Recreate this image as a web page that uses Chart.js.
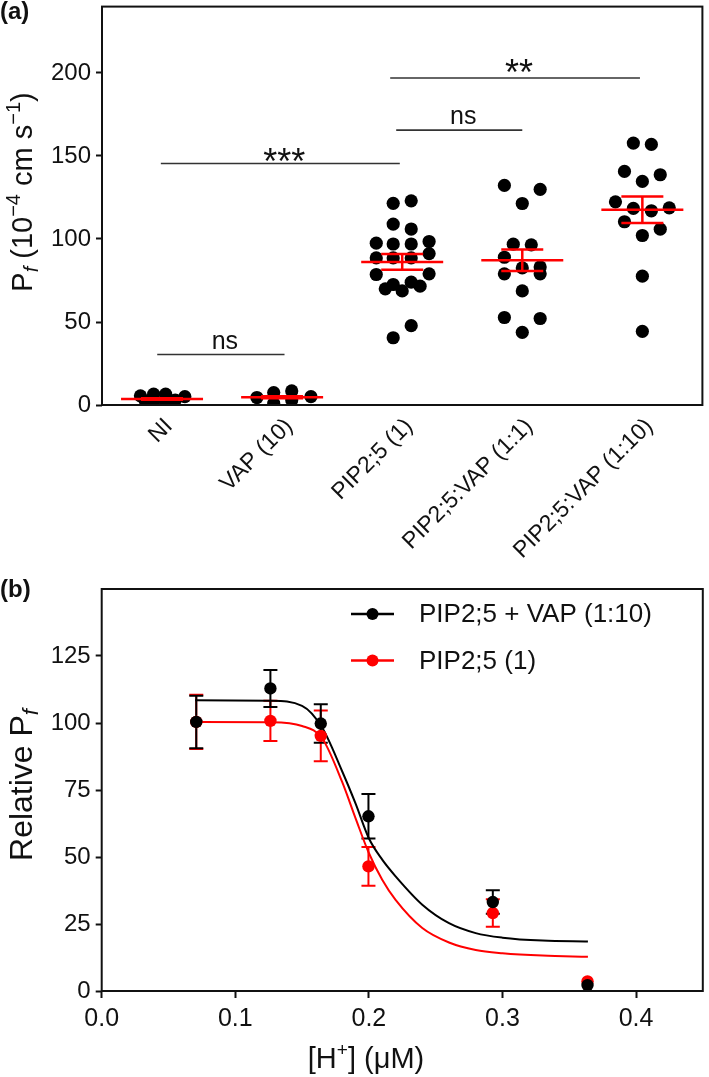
<!DOCTYPE html>
<html><head><meta charset="utf-8">
<script src="https://cdn.jsdelivr.net/npm/chart.js@4.4.0/dist/chart.umd.min.js"></script>
<style>
html,body{margin:0;padding:0;background:#fff;width:709px;height:1077px;overflow:hidden}
#wa{position:absolute;left:0;top:0;width:709px;height:580px}
#wb{position:absolute;left:0;top:580px;width:709px;height:497px}
.lbl{position:absolute;font:bold 24px "Liberation Sans",Arial,sans-serif;color:#111}
</style></head><body>
<div id="wa"><canvas id="ca" width="709" height="580"></canvas></div>
<div id="wb"><canvas id="cb" width="709" height="497"></canvas></div>
<div class="lbl" style="left:0;top:-3px">(a)</div>
<div class="lbl" style="left:0;top:575px">(b)</div>
<script>
// ---------- Panel (a) data ----------
const categories = ['NI', 'VAP (10)', 'PIP2;5 (1)', 'PIP2;5:VAP (1:1)', 'PIP2;5:VAP (1:10)'];
const pfNI      = [5.5, 2.5, 6.5, 2.0, 6.5, 2.5, 3.0, 5.0];
const jitNI     = [-0.18, -0.14, -0.07, -0.07, 0.03, 0.03, 0.11, 0.19];
const pfVAP10   = [4.5, 7.5, 1.0, 8.5, 3.0, 5.0];
const jitVAP10  = [-0.21, -0.07, -0.07, 0.08, 0.08, 0.24];
const pfPIP     = [121.5, 123, 109, 106, 97.5, 97, 97, 98.5, 88.6, 88.6, 88.6, 91.2, 78.6, 79, 70, 72.6, 68.7, 74, 71.6, 47.8, 40.5];
const jitPIP    = [-0.075, 0.075, -0.075, 0.075, -0.216, -0.075, 0.075, 0.224, -0.216, -0.075, 0.075, 0.224, -0.216, 0.224, -0.141, -0.075, 0, 0.075, 0.149, 0.075, -0.075];
const pfPV11    = [132.3, 129.9, 121.4, 96.9, 96.5, 89, 82.6, 83.2, 79, 79, 68.7, 52.7, 52.1, 43.8];
const jitPV11   = [-0.149, 0.149, 0, -0.075, 0.075, -0.149, 0, 0.149, -0.149, 0.149, 0, -0.149, 0.149, 0];
const pfPV110   = [157.8, 157, 140.7, 138.7, 134.7, 122.4, 118.4, 117, 118.8, 110.4, 105.9, 102.1, 77.6, 44.4];
const jitPV110  = [-0.075, 0.075, -0.149, 0.149, 0, -0.224, -0.075, 0.075, 0.224, -0.149, 0.149, 0, 0, 0];
const meanPf    = [3.6, 4.6, 86.2, 87.2, 117.6];
const semPf     = [0.5, 0.6, 4.7, 6.5, 8.0];
const sigFrom   = [-0.04, -0.01, 1.95, 1.9];
const sigTo     = [1.02, 1.98, 3.0, 3.98];
const sigY      = [30.4, 145.5, 165.6, 197];
const sigLabel  = ['ns', '***', 'ns', '**'];
const yTicksA   = [0, 50, 100, 150, 200];

// ---------- Panel (b) data ----------
const hConc     = [0.0708, 0.1263, 0.164, 0.1997, 0.2928, 0.3637];
const relPfVAP  = [100.4, 112.9, 99.8, 65.2, 33.2, 2.2];
const errVAP    = [9.8, 6.9, 7.2, 8.3, 4.4, 0];
const relPfPIP  = [100.4, 100.8, 95.2, 46.5, 29.1, 3.6];
const errPIP    = [10.1, 7.5, 9.5, 7.2, 5.1, 0];
const fitX      = [0.07, 0.126, 0.15, 0.165, 0.18, 0.19, 0.2, 0.21, 0.22, 0.24, 0.26, 0.28, 0.30, 0.33, 0.364];
const fitVAP    = [108.5, 108.3, 106.4, 98.3, 82, 70, 57, 49, 42.8, 32.2, 25.3, 21.6, 19.9, 18.8, 18.5];
const fitPIP    = [100.4, 100.3, 98.9, 94.3, 78, 64.5, 51.5, 41.5, 34, 23.5, 18.1, 15.3, 14.1, 13.2, 12.8];
const seriesNames = ['PIP2;5 + VAP (1:10)', 'PIP2;5 (1)'];
const yTicksB   = [0, 25, 50, 75, 100, 125];
const xTicksB   = [0, 0.1, 0.2, 0.3, 0.4];

const FAM = '"Liberation Sans", Arial, sans-serif';
const TXT = '#111';

function drawRich(ctx, parts, cx, cy, rot) {
  ctx.save();
  ctx.translate(cx, cy);
  ctx.rotate(rot);
  let total = 0;
  parts.forEach(p => { ctx.font = (p.italic ? 'italic ' : '') + p.size + 'px ' + FAM; p.w = ctx.measureText(p.t).width; total += p.w; });
  let x = -total / 2;
  ctx.fillStyle = TXT;
  ctx.textBaseline = 'alphabetic';
  ctx.textAlign = 'left';
  const base = parts[0].size * 0.36;
  parts.forEach(p => { ctx.font = (p.italic ? 'italic ' : '') + p.size + 'px ' + FAM; ctx.fillText(p.t, x, base + (p.dy || 0)); x += p.w; });
  ctx.restore();
}

function pts(vals, jit, idx) { return vals.map((v, i) => ({ x: idx + jit[i], y: v })); }

const boxPlugin = {
  id: 'box',
  afterDraw(chart) {
    const { ctx, chartArea: a } = chart;
    ctx.save();
    ctx.strokeStyle = TXT; ctx.lineWidth = 2;
    ctx.strokeRect(a.left, a.top, a.right - a.left, a.bottom - a.top);
    ctx.restore();
  }
};

// ---------- Chart (a) ----------
const groupVals = [pfNI, pfVAP10, pfPIP, pfPV11, pfPV110];
const groupJit = [jitNI, jitVAP10, jitPIP, jitPV11, jitPV110];

const meanPlugin = {
  id: 'means',
  afterDatasetsDraw(chart) {
    const { ctx, scales: { x, y } } = chart;
    ctx.save();
    ctx.strokeStyle = '#ff0000'; ctx.lineWidth = 2.5;
    meanPf.forEach((m, i) => {
      const xc = x.getPixelForValue(i);
      const ym = y.getPixelForValue(m), yh = y.getPixelForValue(m + semPf[i]), yl = y.getPixelForValue(m - semPf[i]);
      ctx.beginPath();
      ctx.moveTo(xc - 41, ym); ctx.lineTo(xc + 41, ym);
      ctx.moveTo(xc, yh); ctx.lineTo(xc, yl);
      ctx.moveTo(xc - 21, yh); ctx.lineTo(xc + 21, yh);
      ctx.moveTo(xc - 21, yl); ctx.lineTo(xc + 21, yl);
      ctx.stroke();
    });
    // significance brackets
    ctx.strokeStyle = '#333'; ctx.lineWidth = 1.6;
    ctx.fillStyle = TXT; ctx.textAlign = 'center'; ctx.textBaseline = 'alphabetic';
    sigLabel.forEach((lab, i) => {
      const x1 = x.getPixelForValue(sigFrom[i]), x2 = x.getPixelForValue(sigTo[i]);
      const yy = y.getPixelForValue(sigY[i]);
      ctx.beginPath(); ctx.moveTo(x1, yy); ctx.lineTo(x2, yy); ctx.stroke();
      if (lab === 'ns') {
        ctx.font = '25px ' + FAM;
        ctx.fillText(lab, (x1 + x2) / 2 + 4, yy - 6);
      } else {
        ctx.font = '36px ' + FAM;
        ctx.fillText(lab, (x1 + x2) / 2 + 4, yy + (lab === '**' ? 7 : 11));
      }
    });
    ctx.restore();
  },
  afterDraw(chart) {
    drawRich(chart.ctx, [
      { t: 'P', size: 29 }, { t: 'f', size: 20, italic: true, dy: 6 },
      { t: ' (10', size: 29 }, { t: '\u22124', size: 20, dy: -12 },
      { t: ' cm s', size: 29 }, { t: '\u22121', size: 20, dy: -12 }, { t: ')', size: 29 }
    ], 22, 192, -Math.PI / 2);
  }
};

new Chart(document.getElementById('ca'), {
  type: 'scatter',
  data: {
    datasets: groupVals.map((vals, i) => ({
      label: categories[i],
      data: pts(vals, groupJit[i], i),
      backgroundColor: '#000', borderWidth: 0, pointRadius: 6.6
    }))
  },
  options: {
    responsive: false, animation: false,
    layout: { padding: { left: 0, top: 3, right: 4, bottom: 0 } },
    plugins: { legend: { display: false }, tooltip: { enabled: false } },
    scales: {
      x: {
        type: 'linear', min: -0.5, max: 4.5,
        afterBuildTicks(s) { s.ticks = categories.map((c, i) => ({ value: i })); },
        afterFit(s) { s.height = 175; s.paddingLeft = 0; s.paddingRight = 0; },
        ticks: { callback: (v) => categories[v], minRotation: 45, maxRotation: 45, autoSkip: false, padding: 0, labelOffset: 7,
                 color: TXT, font: { family: FAM, size: 23 } },
        grid: { display: false }, border: { display: false }
      },
      y: {
        min: 0, max: 240,
        afterBuildTicks(s) { s.ticks = yTicksA.map(v => ({ value: v })); },
        afterFit(s) { s.width = 102; s.paddingTop = 0; s.paddingBottom = 0; },
        ticks: { color: TXT, padding: 5, font: { family: FAM, size: 24 } },
        grid: { drawOnChartArea: false, drawTicks: true, tickLength: 6, tickWidth: 2, tickColor: TXT, color: TXT },
        border: { display: false }
      }
    }
  },
  plugins: [boxPlugin, meanPlugin]
});

// ---------- Chart (b) ----------
const errPlugin = {
  id: 'errb',
  beforeDatasetsDraw(chart) {
    const { ctx, scales: { x, y } } = chart;
    ctx.save(); ctx.lineWidth = 2;
    [[relPfPIP, errPIP, '#ff0000'], [relPfVAP, errVAP, '#000']].forEach(([vals, errs, col]) => {
      ctx.strokeStyle = col;
      vals.forEach((v, i) => {
        if (!errs[i]) return;
        const xc = x.getPixelForValue(hConc[i]);
        const yh = y.getPixelForValue(v + errs[i]), yl = y.getPixelForValue(v - errs[i]);
        ctx.beginPath();
        ctx.moveTo(xc, yh); ctx.lineTo(xc, yl);
        ctx.moveTo(xc - 7, yh); ctx.lineTo(xc + 7, yh);
        ctx.moveTo(xc - 7, yl); ctx.lineTo(xc + 7, yl);
        ctx.stroke();
      });
    });
    ctx.restore();
  },
  afterDraw(chart) {
    const ctx = chart.ctx;
    const cols = ['#000', '#ff0000'];
    const ys = [34, 80.5];
    ctx.save();
    seriesNames.forEach((n, i) => {
      ctx.strokeStyle = cols[i]; ctx.fillStyle = cols[i]; ctx.lineWidth = 2.5;
      ctx.beginPath(); ctx.moveTo(351, ys[i]); ctx.lineTo(394, ys[i]); ctx.stroke();
      ctx.beginPath(); ctx.arc(372.5, ys[i], 6, 0, Math.PI * 2); ctx.fill();
      ctx.fillStyle = TXT; ctx.font = '26px ' + FAM; ctx.textBaseline = 'middle'; ctx.textAlign = 'left';
      ctx.fillText(n, 419, ys[i] + 1);
    });
    ctx.restore();
    drawRich(ctx, [{ t: 'Relative P', size: 32 }, { t: 'f', size: 22, italic: true, dy: 6 }], 20, 205, -Math.PI / 2);
    drawRich(ctx, [{ t: '[H', size: 29 }, { t: '+', size: 19, dy: -12 }, { t: '] (\u03bcM)', size: 29 }], 366, 478, 0);
  }
};

new Chart(document.getElementById('cb'), {
  type: 'scatter',
  data: {
    datasets: [
      { label: seriesNames[0], data: hConc.map((h, i) => ({ x: h, y: relPfVAP[i] })), backgroundColor: '#000', borderWidth: 0, pointRadius: 6.2 },
      { label: seriesNames[1], data: hConc.map((h, i) => ({ x: h, y: relPfPIP[i] })), backgroundColor: '#ff0000', borderWidth: 0, pointRadius: 6.2 },
      { label: 'fit VAP', data: fitX.map((h, i) => ({ x: h, y: fitVAP[i] })), showLine: true, borderColor: '#000', borderWidth: 2, pointRadius: 0, cubicInterpolationMode: 'monotone' },
      { label: 'fit PIP', data: fitX.map((h, i) => ({ x: h, y: fitPIP[i] })), showLine: true, borderColor: '#ff0000', borderWidth: 2, pointRadius: 0, cubicInterpolationMode: 'monotone' }
    ]
  },
  options: {
    responsive: false, animation: false,
    layout: { padding: { left: 0, top: 9, right: 2.3, bottom: 0 } },
    plugins: { legend: { display: false }, tooltip: { enabled: false } },
    scales: {
      x: {
        type: 'linear', min: 0, max: 0.45,
        afterBuildTicks(s) { s.ticks = xTicksB.map(v => ({ value: v })); },
        afterFit(s) { s.height = 86; s.paddingLeft = 0; s.paddingRight = 0; },
        ticks: { callback: (v) => v.toFixed(1), color: TXT, padding: 6, font: { family: FAM, size: 25 } },
        grid: { drawOnChartArea: false, drawTicks: true, tickLength: 7, tickWidth: 2, tickColor: TXT, color: TXT },
        border: { display: false }
      },
      y: {
        min: 0, max: 150,
        afterBuildTicks(s) { s.ticks = yTicksB.map(v => ({ value: v })); },
        afterFit(s) { s.width = 101.7; s.paddingTop = 0; s.paddingBottom = 0; },
        ticks: { color: TXT, padding: 5, font: { family: FAM, size: 24 } },
        grid: { drawOnChartArea: false, drawTicks: true, tickLength: 6, tickWidth: 2, tickColor: TXT, color: TXT },
        border: { display: false }
      }
    }
  },
  plugins: [boxPlugin, errPlugin]
});
</script>
</body></html>
